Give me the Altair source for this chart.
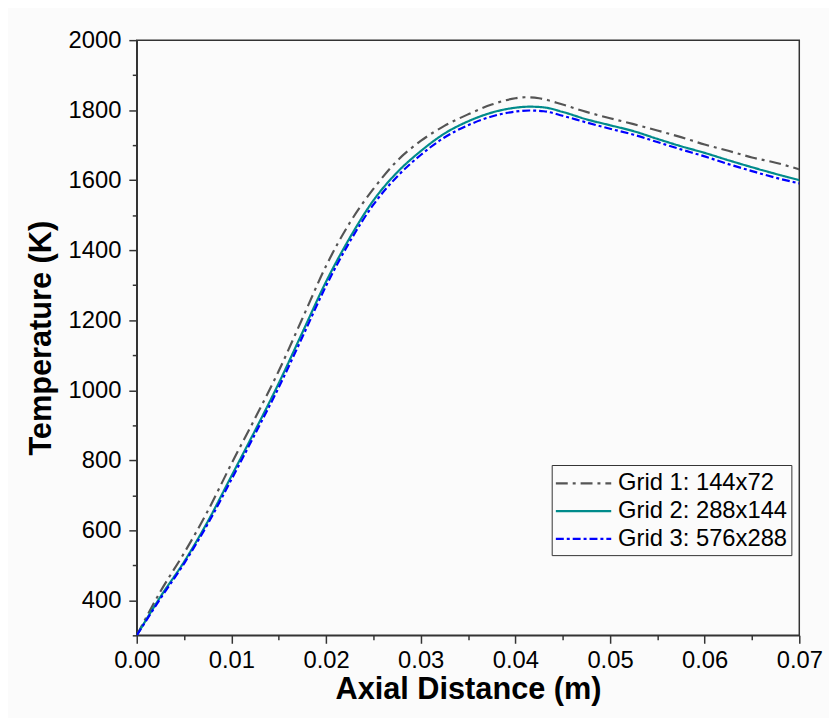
import altair as alt
import pandas as pd

# ---- data ----
series_names = ["Grid 1: 144x72", "Grid 2: 288x144", "Grid 3: 576x288"]

x_grid1 = [0.0, 0.0025, 0.005, 0.0075, 0.01, 0.0125, 0.015, 0.0175, 0.02, 0.0225,
           0.025, 0.0275, 0.03, 0.0325, 0.035, 0.0375, 0.04, 0.041, 0.0425, 0.045,
           0.0475, 0.05, 0.0525, 0.055, 0.0575, 0.06, 0.0625, 0.065, 0.0675, 0.07]
t_grid1 = [300, 425, 535, 655, 790, 920, 1055, 1205, 1355, 1478,
           1575, 1655, 1712, 1755, 1788, 1816, 1834, 1837, 1834, 1816,
           1795, 1777, 1760, 1742, 1723, 1702, 1684, 1665, 1650, 1631]

x_grid2 = [0.0, 0.0025, 0.005, 0.0075, 0.01, 0.0125, 0.015, 0.0175, 0.02, 0.0225,
           0.025, 0.0275, 0.03, 0.0325, 0.035, 0.0375, 0.04, 0.0415, 0.043, 0.045,
           0.0475, 0.05, 0.0525, 0.055, 0.0575, 0.06, 0.0625, 0.065, 0.0675, 0.07]
t_grid2 = [300, 410, 510, 625, 755, 885, 1020, 1165, 1310, 1435,
           1542, 1622, 1683, 1733, 1768, 1793, 1807, 1810, 1808, 1795,
           1774, 1757, 1740, 1718, 1697, 1678, 1657, 1637, 1618, 1600]

x_grid3 = [0.0, 0.0025, 0.005, 0.0075, 0.01, 0.0125, 0.015, 0.0175, 0.02, 0.0225,
           0.025, 0.0275, 0.03, 0.0325, 0.035, 0.0375, 0.04, 0.0415, 0.043, 0.045,
           0.0475, 0.05, 0.0525, 0.055, 0.0575, 0.06, 0.0625, 0.065, 0.0675, 0.07]
t_grid3 = [300, 405, 505, 618, 745, 875, 1008, 1152, 1298, 1424,
           1530, 1610, 1672, 1722, 1757, 1782, 1796, 1799, 1797, 1784,
           1765, 1747, 1730, 1709, 1688, 1668, 1646, 1626, 1607, 1591]

x_major_ticks = [0.0, 0.01, 0.02, 0.03, 0.04, 0.05, 0.06, 0.07]
x_minor_ticks = [0.005, 0.015, 0.025, 0.035, 0.045, 0.055, 0.065]
y_major_ticks = [400, 600, 800, 1000, 1200, 1400, 1600, 1800, 2000]
y_minor_ticks = [300, 500, 700, 900, 1100, 1300, 1500, 1700, 1900]

series_colors = ["#555555", "#008b8b", "#0000ff"]
series_dashes = [[12, 5, 3, 5], [1, 0], [8, 3, 3, 3]]

rows = []
for name, xs, ts in zip(series_names, [x_grid1, x_grid2, x_grid3], [t_grid1, t_grid2, t_grid3]):
    for xv, tv in zip(xs, ts):
        rows.append({"x": xv, "T": tv, "Grid": name})
df = pd.DataFrame(rows)

FONT = "Liberation Sans"
AX = "#333333"

xscale = alt.Scale(domain=[0, 0.07], nice=False, zero=False)
yscale = alt.Scale(domain=[300, 2000], nice=False, zero=False)

legend_kw = dict(
    title=None, orient="none", legendX=419, legendY=429,
    symbolType="M-1.1,0H3.2", symbolSize=676, symbolStrokeWidth=2.2,
    labelFont=FONT, labelFontSize=24, labelColor="black", labelOffset=34, labelLimit=400,
    padding=4, rowPadding=1, strokeColor=AX, fillColor="#fbfbfb",
)

lines = alt.Chart(df).mark_line(strokeWidth=2.2, interpolate="monotone", clip=True).encode(
    x=alt.X("x:Q", scale=xscale,
            axis=alt.Axis(values=x_major_ticks, format=".2f", title="Axial Distance (m)",
                          tickSize=8, labelPadding=5, labelFlush=False,
                          titleY=64, titleBaseline="alphabetic", orient="bottom")),
    y=alt.Y("T:Q", scale=yscale,
            axis=alt.Axis(values=y_major_ticks, format="d", title="Temperature (K)",
                          tickSize=8, labelPadding=8, labelFlush=False,
                          titleX=-87, titleBaseline="alphabetic", orient="left")),
    color=alt.Color("Grid:N", scale=alt.Scale(domain=series_names, range=series_colors),
                    legend=alt.Legend(**legend_kw)),
    strokeDash=alt.StrokeDash("Grid:N", scale=alt.Scale(domain=series_names, range=series_dashes),
                              legend=alt.Legend(**legend_kw)),
)

minor = alt.Chart(df).mark_point(opacity=0).encode(
    x=alt.X("x:Q", scale=xscale,
            axis=alt.Axis(values=x_minor_ticks, labels=False, domain=False, title=None,
                          tickSize=4.5, orient="bottom")),
    y=alt.Y("T:Q", scale=yscale,
            axis=alt.Axis(values=y_minor_ticks, labels=False, domain=False, title=None,
                          tickSize=4.5, orient="left")),
)

chart = (
    alt.layer(lines, minor)
    .resolve_axis(x="independent", y="independent")
    .properties(width=669, height=601, autosize=alt.AutoSizeParams(type="none"),
                padding={"left": 130, "top": 29, "right": 30, "bottom": 80},
                background="#fbfbfb")
    .configure_view(stroke=AX, strokeWidth=1.5)
    .configure_axis(grid=False, domainColor=AX, domainWidth=1.5, tickColor=AX, tickWidth=1.5,
                    labelFont=FONT, labelFontSize=24, labelColor="black",
                    titleFont=FONT, titleFontSize=31, titleFontWeight="bold", titleColor="black")
)

chart.save("out.html", embed_options={"renderer": "svg", "actions": False})
